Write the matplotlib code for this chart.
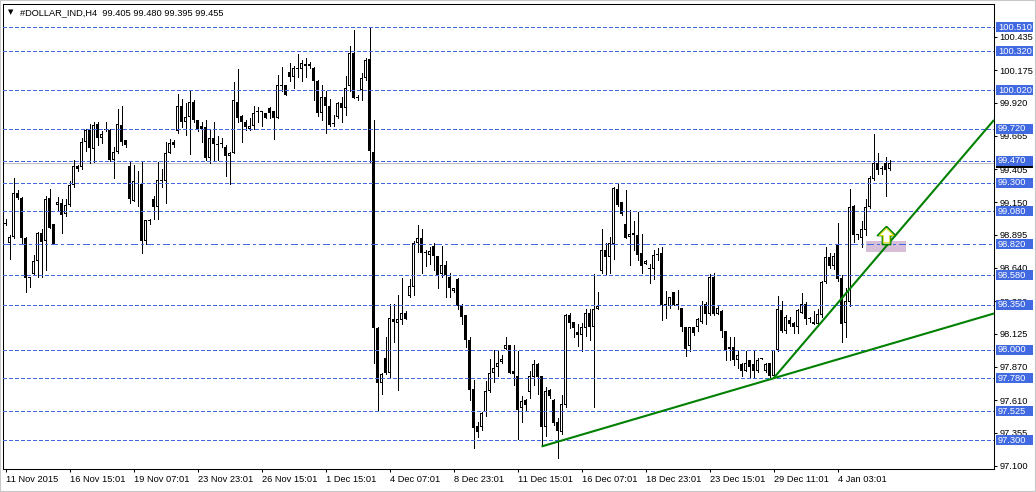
import matplotlib
matplotlib.use("Agg")
import matplotlib.pyplot as plt
import matplotlib.transforms as mtransforms
from matplotlib.patches import Rectangle
from matplotlib.path import Path
import numpy as np

plt.rcParams['font.family'] = ['Liberation Sans', 'DejaVu Sans']
plt.rcParams['lines.scale_dashes'] = False

# H4 candles, #DOLLAR_IND, 11 Nov 2015 .. 5 Jan 2016
opens = [98.99, 98.83, 98.88, 99.22, 99.18, 98.87, 98.56, 98.59, 98.69, 98.91,
         98.85, 99.18, 98.98, 99.13, 99.14, 99.06, 99.13, 99.28, 99.43, 99.42,
         99.62, 99.72, 99.56, 99.76, 99.65, 99.71, 99.71, 99.48, 99.54, 99.75,
         99.63, 99.43, 99.16, 99.30, 99.29, 98.85, 99.00, 99.17, 99.11, 99.32,
         99.31, 99.53, 99.62, 99.70, 99.90, 99.77, 99.81, 99.93, 99.79, 99.74,
         99.73, 99.49, 99.65, 99.60, 99.60, 99.58, 99.51, 99.53, 99.93, 99.82,
         99.77, 99.72, 99.74, 99.85, 99.85, 99.84, 99.88, 99.86, 99.80, 100.06,
         100.06, 100.16, 100.12, 100.18, 100.18, 100.22, 100.22, 100.19, 100.09, 99.84,
         99.97, 99.90, 99.76, 99.81, 99.92, 99.88, 100.05, 100.31, 99.96, 100.02,
         100.11, 100.26, 99.54, 98.17, 97.74, 97.94, 97.82, 98.24, 98.21, 98.23,
         98.29, 98.42, 98.49, 98.83, 98.87, 98.75, 98.74, 98.81, 98.73, 98.59,
         98.66, 98.57, 98.46, 98.55, 98.34, 98.27, 98.08, 97.70, 97.41, 97.40,
         97.52, 97.68, 97.82, 97.87, 97.91, 98.01, 98.04, 97.84, 97.80, 97.55,
         97.61, 97.67, 97.79, 97.89, 97.80, 97.40, 97.69, 97.61, 97.44, 97.36,
         97.57, 98.27, 98.22, 98.14, 98.12, 98.17, 98.29, 98.18, 98.32, 98.61,
         98.78, 98.72, 98.82, 99.25, 99.15, 98.98, 98.88, 98.91, 98.89, 98.75,
         98.67, 98.64, 98.63, 98.74, 98.75, 98.36, 98.34, 98.45, 98.36, 98.33,
         98.18, 98.03, 98.18, 98.18, 98.22, 98.36, 98.28, 98.57, 98.28, 98.30,
         98.15, 98.02, 98.02, 97.92, 97.89, 97.84, 97.92, 97.89, 97.84, 97.93,
         97.84, 97.90, 97.80, 98.00, 98.31, 98.15, 98.23, 98.21, 98.18, 98.29,
         98.36, 98.24, 98.20, 98.20, 98.27, 98.53, 98.72, 98.65, 98.82, 98.56,
         98.21, 98.37, 99.12, 98.89, 98.87, 98.93, 99.11, 99.33, 99.45, 99.41,
         99.45, 99.405]
highs = [99.02, 98.89, 99.34, 99.24, 99.19, 98.88, 98.57, 98.74, 98.92, 98.94,
         99.20, 99.25, 98.98, 99.19, 99.17, 99.17, 99.31, 99.48, 99.44, 99.65,
         99.72, 99.76, 99.77, 99.77, 99.70, 99.77, 99.72, 99.58, 99.87, 99.90,
         99.63, 99.46, 99.44, 99.39, 99.46, 99.01, 99.02, 99.20, 99.46, 99.41,
         99.62, 99.64, 99.63, 99.99, 99.95, 99.92, 100.01, 99.94, 99.79, 99.77,
         99.79, 99.71, 99.77, 99.66, 99.65, 99.59, 99.54, 100.08, 100.18, 99.83,
         99.79, 99.80, 99.90, 99.89, 99.85, 99.84, 99.89, 99.86, 100.14, 100.20,
         100.06, 100.23, 100.21, 100.30, 100.25, 100.27, 100.24, 100.20, 100.10, 100.06,
         100.01, 99.95, 99.83, 99.93, 99.97, 100.13, 100.36, 100.49, 99.98, 100.15,
         100.27, 100.51, 99.79, 98.18, 97.82, 98.10, 98.36, 98.36, 98.43, 98.56,
         98.30, 98.55, 98.85, 98.97, 98.94, 98.78, 98.80, 98.83, 98.73, 98.81,
         98.69, 98.60, 98.48, 98.56, 98.36, 98.27, 98.10, 97.77, 97.44, 97.52,
         97.76, 97.93, 98.00, 98.00, 97.96, 98.10, 98.04, 98.04, 97.99, 97.64,
         97.62, 97.84, 97.92, 97.90, 97.80, 97.71, 97.70, 97.62, 97.47, 97.65,
         98.28, 98.29, 98.22, 98.20, 98.21, 98.32, 98.32, 98.59, 98.45, 98.94,
         98.83, 98.88, 99.27, 99.29, 99.15, 99.24, 99.09, 99.00, 99.07, 98.90,
         98.70, 98.67, 98.78, 98.79, 98.80, 98.46, 98.41, 98.45, 98.47, 98.33,
         98.18, 98.18, 98.18, 98.25, 98.38, 98.37, 98.59, 98.60, 98.35, 98.31,
         98.15, 98.10, 98.10, 98.00, 97.90, 97.99, 97.92, 97.99, 97.94, 97.94,
         97.90, 97.90, 98.00, 98.42, 98.38, 98.27, 98.26, 98.22, 98.32, 98.44,
         98.37, 98.26, 98.30, 98.32, 98.54, 98.80, 98.75, 98.75, 98.99, 98.58,
         98.48, 99.25, 99.13, 98.90, 99.00, 99.17, 99.35, 99.68, 99.53, 99.43,
         99.50, 99.48]
lows = [98.97, 98.71, 98.87, 99.17, 98.82, 98.45, 98.49, 98.58, 98.57, 98.57,
        98.62, 98.95, 98.82, 99.09, 98.91, 99.04, 99.12, 99.27, 99.39, 99.41,
        99.55, 99.45, 99.46, 99.59, 99.61, 99.70, 99.47, 99.34, 99.53, 99.59,
        99.58, 99.14, 99.16, 99.12, 98.75, 98.82, 98.98, 99.02, 99.02, 99.27,
        99.14, 99.53, 99.58, 99.69, 99.73, 99.67, 99.52, 99.77, 99.70, 99.62,
        99.48, 99.45, 99.48, 99.48, 99.58, 99.35, 99.29, 99.53, 99.77, 99.62,
        99.71, 99.71, 99.72, 99.77, 99.74, 99.80, 99.80, 99.64, 99.80, 100.01,
        99.98, 100.09, 100.04, 100.12, 100.09, 100.12, 100.19, 99.94, 99.82, 99.79,
        99.69, 99.74, 99.74, 99.80, 99.77, 99.83, 100.01, 99.96, 99.94, 99.94,
        100.10, 99.46, 97.90, 97.53, 97.66, 97.81, 97.78, 98.06, 97.69, 98.20,
        98.24, 98.41, 98.43, 98.76, 98.60, 98.65, 98.67, 98.62, 98.48, 98.57,
        98.41, 98.41, 98.45, 98.32, 98.20, 98.02, 97.61, 97.24, 97.32, 97.38,
        97.49, 97.67, 97.75, 97.80, 97.90, 98.01, 97.82, 97.73, 97.31, 97.44,
        97.53, 97.63, 97.73, 97.66, 97.25, 97.33, 97.63, 97.42, 97.16, 97.35,
        97.56, 98.17, 98.10, 98.03, 97.99, 98.11, 98.08, 97.56, 98.32, 98.60,
        98.58, 98.60, 98.71, 99.12, 99.05, 98.87, 98.66, 98.78, 98.70, 98.60,
        98.67, 98.52, 98.55, 98.70, 98.23, 98.25, 98.33, 98.35, 98.32, 98.15,
        97.95, 97.99, 98.12, 98.15, 98.21, 98.20, 98.27, 98.27, 98.28, 98.10,
        97.92, 97.92, 97.88, 97.86, 97.80, 97.84, 97.79, 97.79, 97.83, 97.93,
        97.83, 97.79, 97.78, 97.99, 98.14, 98.13, 98.19, 98.13, 98.13, 98.29,
        98.20, 98.22, 98.20, 98.19, 98.26, 98.52, 98.64, 98.63, 98.54, 98.06,
        98.10, 98.34, 98.84, 98.86, 98.80, 98.89, 99.10, 99.32, 99.37, 99.37,
        99.20, 99.395]
closes = [98.98, 98.88, 99.22, 99.18, 98.87, 98.56, 98.56, 98.69, 98.91, 98.84,
          99.17, 98.95, 98.82, 99.15, 99.05, 99.13, 99.28, 99.43, 99.41, 99.62,
          99.71, 99.57, 99.75, 99.65, 99.68, 99.71, 99.48, 99.54, 99.76, 99.62,
          99.59, 99.17, 99.31, 99.29, 98.85, 99.01, 99.00, 99.11, 99.32, 99.31,
          99.53, 99.61, 99.59, 99.90, 99.77, 99.81, 99.93, 99.79, 99.71, 99.72,
          99.49, 99.65, 99.60, 99.59, 99.61, 99.51, 99.53, 99.94, 99.80, 99.77,
          99.73, 99.74, 99.84, 99.85, 99.85, 99.80, 99.84, 99.80, 100.06, 100.05,
          99.98, 100.12, 100.19, 100.18, 100.23, 100.21, 100.21, 100.09, 99.84, 99.97,
          99.90, 99.75, 99.76, 99.92, 99.88, 100.04, 100.31, 99.96, 99.96, 100.11,
          100.25, 99.55, 98.17, 97.74, 97.81, 97.82, 98.25, 98.22, 98.24, 98.29,
          98.24, 98.50, 98.83, 98.87, 98.75, 98.75, 98.77, 98.73, 98.58, 98.66,
          98.58, 98.48, 98.48, 98.34, 98.26, 98.08, 97.69, 97.39, 97.36, 97.51,
          97.68, 97.82, 97.86, 97.90, 97.93, 98.04, 97.82, 97.81, 97.53, 97.60,
          97.57, 97.80, 97.89, 97.79, 97.40, 97.68, 97.64, 97.43, 97.37, 97.58,
          98.27, 98.21, 98.17, 98.12, 98.18, 98.29, 98.18, 98.32, 98.34, 98.78,
          98.72, 98.83, 99.26, 99.13, 99.06, 98.87, 98.90, 98.89, 98.74, 98.65,
          98.69, 98.63, 98.74, 98.74, 98.35, 98.34, 98.41, 98.35, 98.34, 98.18,
          98.01, 98.18, 98.13, 98.24, 98.35, 98.28, 98.57, 98.28, 98.33, 98.15,
          98.00, 98.01, 97.92, 97.96, 97.84, 97.90, 97.87, 97.84, 97.92, 97.93,
          97.89, 97.80, 98.00, 98.32, 98.15, 98.26, 98.20, 98.18, 98.31, 98.36,
          98.24, 98.24, 98.22, 98.28, 98.53, 98.72, 98.65, 98.73, 98.55, 98.20,
          98.38, 99.11, 98.89, 98.89, 98.94, 99.11, 99.34, 99.45, 99.40, 99.41,
          99.40, 99.455]

time_labels = ["11 Nov 2015", "16 Nov 15:01", "19 Nov 07:01", "23 Nov 23:01",
               "26 Nov 15:01", "1 Dec 15:01", "4 Dec 07:01", "8 Dec 23:01",
               "11 Dec 15:01", "16 Dec 07:01", "18 Dec 23:01", "23 Dec 15:01",
               "29 Dec 11:01", "4 Jan 03:01"]
price_ticks = [100.435, 100.175, 99.920, 99.665, 99.405, 99.150, 98.895,
               98.640, 98.380, 98.125, 97.870, 97.610, 97.355, 97.100]
levels = [100.51, 100.32, 100.02, 99.72, 99.47, 99.30, 99.08, 98.82,
          98.58, 98.35, 98.00, 97.78, 97.525, 97.30]
dashdot_level = 98.82
bid = 99.455
# trend lines: two anchor points each (bar index, price), drawn as rays
trend_a = [(134, 97.25), (192, 97.78)]
trend_b = [(192, 97.78), (222.75, 98.90)]
box_bars = (215, 225)
box_prices = (98.76, 98.85)
arrow_pt = (220, 98.89)

W, H = 1036, 492
fig = plt.figure(figsize=(W / 100, H / 100), dpi=100)
ax = fig.add_axes([3 / W, 1 - 469 / H, 991 / W, 465 / H])
ax.set_xlim(-0.625, 247.125)
ax.set_ylim(97.075, 100.689)
px = (100.689 - 97.075) / 465.0   # price per pixel
bw = 0.25                          # one pixel in bar units

o = np.array(opens); hi = np.array(highs); lo = np.array(lows); c = np.array(closes)
x = np.arange(len(o))
up = c >= o
ax.vlines(x, lo, hi, color='black', lw=0.72, zorder=2, antialiased=False)
body_lo = np.minimum(o, c)
body_h = np.maximum(np.abs(c - o), px)
ax.bar(x, body_h, bottom=body_lo, width=3 * bw, color='black', lw=0,
       zorder=3, antialiased=False)
# hollow inside of the bullish bodies
inner = up & (body_h > 2.5 * px)
ax.bar(x[inner], body_h[inner] - 2 * px, bottom=body_lo[inner] + px, width=bw,
       color='white', lw=0, zorder=3.2, antialiased=False)

# horizontal levels
for lv in levels:
    ls = (0, (5.0, 2.2, 1.5, 2.2)) if lv == dashdot_level else (0, (2.2, 1.5))
    ax.axhline(lv, color='#4169E1', lw=0.72, ls=ls, zorder=4, antialiased=False)
ax.axhline(bid, color='#C0C0C0', lw=0.72, zorder=1.5, antialiased=False)

ax.add_patch(Rectangle((box_bars[0], box_prices[0]), box_bars[1] - box_bars[0],
                       box_prices[1] - box_prices[0], facecolor='#D8BFD8',
                       edgecolor='none', zorder=3.5))

xr = ax.get_xlim()[1]
for (x0, y0), (x1, y1) in (trend_a, trend_b):
    k = (y1 - y0) / (x1 - x0)
    ax.plot([x0, xr], [y0, y0 + k * (xr - x0)], color='#008000', lw=1.5,
            zorder=5, solid_capstyle='butt', clip_on=False)

arrow = Path([(0, 1), (1, 0), (0.45, 0), (0.45, -1), (-0.45, -1), (-0.45, 0),
              (-1, 0), (0, 1)])
ax.plot([arrow_pt[0]], [arrow_pt[1]], marker=arrow, markersize=13, mfc='white',
        mec='#008000', mew=1.2, zorder=6)
ax.plot([arrow_pt[0]], [arrow_pt[1]], marker=arrow, markersize=10.5, mfc='white',
        mec='#E0D800', mew=0.7, zorder=6.5)

# axes look
for s in ax.spines.values():
    s.set_linewidth(0.75)
    s.set_color('black')
ax.yaxis.tick_right()
ax.set_yticks(price_ticks)
ax.set_yticklabels([f'{v:.3f}' for v in price_ticks])
ax.tick_params(axis='y', length=2.2, width=0.75, pad=1.5, labelsize=6.7)
ax.set_xticks(np.arange(len(time_labels)) * 16)
ax.set_xticklabels(time_labels, ha='left')
ax.tick_params(axis='x', length=2.2, width=0.75, pad=2, labelsize=6.7)

# price labels on the right scale
tr = mtransforms.blended_transform_factory(fig.transFigure, ax.transData)
ax.add_artist(Rectangle((996 / W, bid - 5 * px), 37 / W, 10 * px, transform=tr,
                        facecolor='black', edgecolor='none', zorder=6, clip_on=False))
for lv in levels:
    ax.add_artist(Rectangle((996 / W, lv - 5 * px), 37 / W, 10 * px, transform=tr,
                            facecolor='#4169E1', edgecolor='none', zorder=7,
                            clip_on=False))
    ax.text(998 / W, lv, f'{lv:.3f}', transform=tr, color='white', fontsize=6.7,
            va='center', ha='left', zorder=8, clip_on=False)

fig.text(8 / W, 1 - 12.5 / H, '▼', fontsize=5, va='center', family='DejaVu Sans')
fig.text(20 / W, 1 - 12.5 / H,
         f'#DOLLAR_IND,H4  {opens[-1]:.3f} {highs[-1]:.3f} {lows[-1]:.3f} {closes[-1]:.3f}',
         fontsize=6.7, va='center')

fig.patches.append(Rectangle((0, 0), 1, 1, transform=fig.transFigure, fill=False,
                             edgecolor='#C8C8C8', lw=1.5))

fig.savefig('out.png', dpi=100)
